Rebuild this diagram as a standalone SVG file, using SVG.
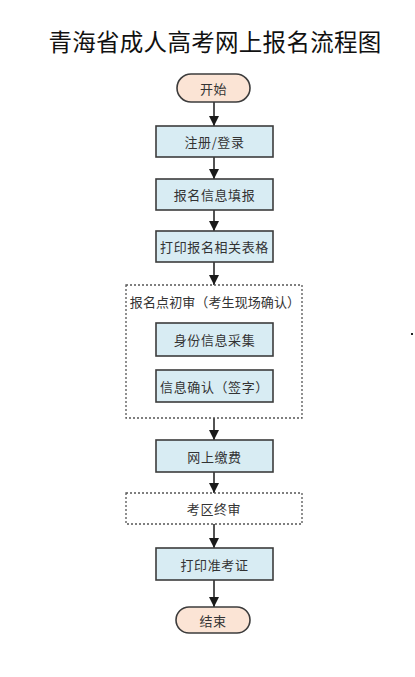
<svg xmlns="http://www.w3.org/2000/svg" width="415" height="677" viewBox="0 0 415 677">
<defs>
<marker id="ah" viewBox="0 0 10 10" refX="10" refY="5" markerWidth="10" markerHeight="11" markerUnits="userSpaceOnUse" orient="auto">
<path d="M0,0 L10,5 L0,10 Z" fill="#1a1a1a"/>
</marker>
</defs>
<style>
text{font-family:"Noto Sans CJK SC","Liberation Sans",sans-serif;fill:#333;text-anchor:middle;dominant-baseline:central}
.box{fill:#d8ecf3;stroke:#3c3c3c;stroke-width:1.6}
.term{fill:#fbe4d5;stroke:#3c3c3c;stroke-width:1.6}
.dot{fill:#fff;stroke:#555;stroke-width:1.3;stroke-dasharray:2 2}
.lbl{font-size:13px;letter-spacing:0.6px}
.title{font-size:23.5px;fill:#111;letter-spacing:0.3px}
.conn line{stroke:#1a1a1a;stroke-width:1.5;marker-end:url(#ah)}
</style>
<rect width="415" height="677" fill="#fff"/>
<text class="title" x="215" y="41">青海省成人高考网上报名流程图</text>
<g class="conn">
<line x1="214" y1="102" x2="214" y2="126"/>
<line x1="214" y1="157" x2="214" y2="179"/>
<line x1="214" y1="210" x2="214" y2="231"/>
<line x1="214" y1="262" x2="214" y2="285"/>
<line x1="214" y1="418" x2="214" y2="440"/>
<line x1="214" y1="472" x2="214" y2="493"/>
<line x1="214" y1="524" x2="214" y2="548"/>
<line x1="214" y1="580" x2="214" y2="607"/>
</g>
<g id="start"><rect class="term" x="177" y="74" width="73" height="28" rx="14"/><text class="lbl" x="213.5" y="88">开始</text></g>
<g id="register"><rect class="box" x="156" y="126" width="117" height="31"/><text class="lbl" x="214.5" y="141.5">注册/登录</text></g>
<g id="fill"><rect class="box" x="156" y="179" width="117" height="31"/><text class="lbl" x="214.5" y="194.5">报名信息填报</text></g>
<g id="print-form"><rect class="box" x="156" y="231" width="117" height="31"/><text class="lbl" x="214.5" y="246.5">打印报名相关表格</text></g>
<g id="initial-review"><rect class="dot" x="126" y="285" width="176" height="133"/><text class="lbl" x="215" y="301" style="letter-spacing:0.1px">报名点初审（考生现场确认）</text>
<g id="collect"><rect class="box" x="156" y="323" width="117" height="33"/><text class="lbl" x="214.5" y="339.5">身份信息采集</text></g>
<g id="confirm"><rect class="box" x="156" y="370" width="117" height="32"/><text class="lbl" x="214.5" y="386">信息确认（签字）</text></g>
</g>
<g id="pay"><rect class="box" x="156" y="440" width="117" height="32"/><text class="lbl" x="214.5" y="456">网上缴费</text></g>
<g id="final-review"><rect class="dot" x="126" y="493" width="176" height="31"/><text class="lbl" x="214" y="508.5">考区终审</text></g>
<g id="print-ticket"><rect class="box" x="156" y="548" width="117" height="32"/><text class="lbl" x="214.5" y="564">打印准考证</text></g>
<g id="end"><rect class="term" x="176" y="607" width="74" height="26" rx="13"/><text class="lbl" x="213" y="620">结束</text></g>
<rect x="411" y="333" width="2" height="2" fill="#222"/>
</svg>
